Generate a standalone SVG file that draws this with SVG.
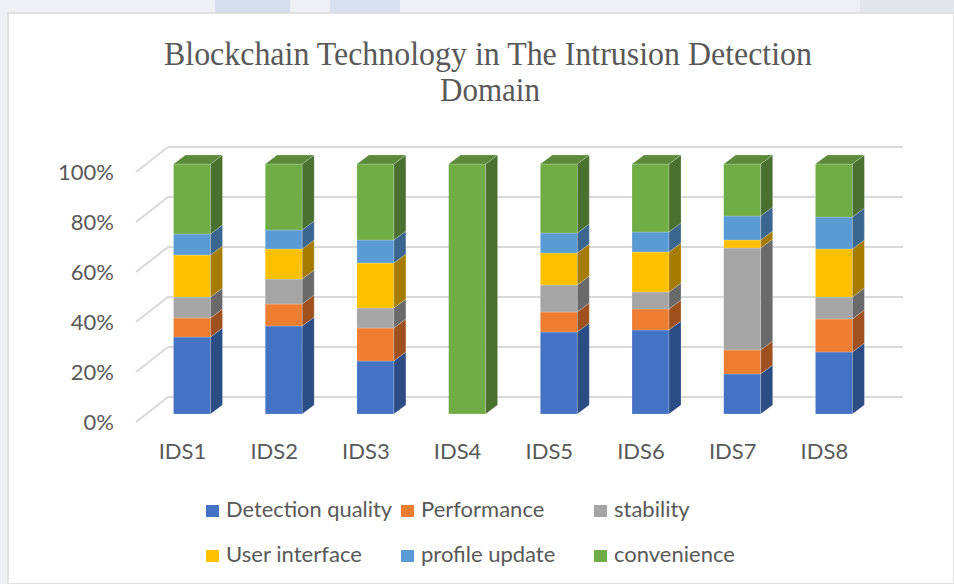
<svg xmlns="http://www.w3.org/2000/svg" width="954" height="584" viewBox="0 0 954 584">
<style>
.t{font-family:Lato,"Liberation Sans",sans-serif;font-size:22px;fill:#595959}
.ttl{font-family:"Liberation Serif","Times New Roman",serif;font-size:33px;fill:#595959}
.g{stroke:#D9D9D9;stroke-width:2;fill:none}
.bf{fill:#4472C4}.bs{fill:#2C4C84}
.of{fill:#ED7D31}.os{fill:#9E511F}
.af{fill:#A5A5A5}.as{fill:#6A6A6A}
.yf{fill:#FFC000}.ys{fill:#A67C00}
.lf{fill:#5B9BD5}.ls{fill:#3A6690}
.cf{fill:#70AD47}.cs{fill:#4A712F}.ct{fill:#5A8A3A}
.bar rect,.bar polygon{stroke:#ffffff;stroke-opacity:0.35;stroke-width:0.6}
</style>
<!-- backdrop outside chart area -->
<rect x="0" y="0" width="954" height="584" fill="#EEF0F3"/>
<rect x="215" y="0" width="75" height="13" fill="#D5DEEE"/>
<rect x="330" y="0" width="70" height="13" fill="#D9E1F0"/>
<rect x="860" y="0" width="94" height="13" fill="#E2E5EA"/>
<rect x="8" y="13" width="946" height="571" fill="#FFFFFF" stroke="#D9D9D9" stroke-width="1.5"/>
<text class="ttl" x="488" y="65" text-anchor="middle" textLength="648" lengthAdjust="spacingAndGlyphs">Blockchain Technology in The Intrusion Detection</text>
<text class="ttl" x="490" y="101" text-anchor="middle" textLength="100" lengthAdjust="spacingAndGlyphs">Domain</text>
<g id="gridlines">
<path class="g" d="M136,172 L168,147 L903,147 M136,222 L168,197 L903,197 M136,272 L168,247 L903,247 M136,322 L168,297 L903,297 M136,372 L168,347 L903,347 M136,422 L168,397 L903,397"/>
</g>
<g id="y-axis">
<text class="t" x="114" y="180" text-anchor="end">100%</text>
<text class="t" x="114" y="230" text-anchor="end">80%</text>
<text class="t" x="114" y="280" text-anchor="end">60%</text>
<text class="t" x="114" y="330" text-anchor="end">40%</text>
<text class="t" x="114" y="380" text-anchor="end">20%</text>
<text class="t" x="114" y="430" text-anchor="end">0%</text>
</g>
<g id="bar-IDS1" class="bar" transform="translate(173.5,0)">
<rect class="bf" x="0" y="337" width="37" height="77"/><polygon class="bs" points="37,414 37,337 49,328 49,405"/>
<rect class="of" x="0" y="318" width="37" height="19"/><polygon class="os" points="37,337 37,318 49,309 49,328"/>
<rect class="af" x="0" y="297" width="37" height="21"/><polygon class="as" points="37,318 37,297 49,288 49,309"/>
<rect class="yf" x="0" y="255" width="37" height="42"/><polygon class="ys" points="37,297 37,255 49,246 49,288"/>
<rect class="lf" x="0" y="234" width="37" height="21"/><polygon class="ls" points="37,255 37,234 49,225 49,246"/>
<rect class="cf" x="0" y="164" width="37" height="70"/><polygon class="cs" points="37,234 37,164 49,155 49,225"/>
<polygon class="ct" points="0,164 37,164 49,155 12,155"/>
</g>
<g id="bar-IDS2" class="bar" transform="translate(265.2,0)">
<rect class="bf" x="0" y="326" width="37" height="88"/><polygon class="bs" points="37,414 37,326 49,317 49,405"/>
<rect class="of" x="0" y="304" width="37" height="22"/><polygon class="os" points="37,326 37,304 49,295 49,317"/>
<rect class="af" x="0" y="279" width="37" height="25"/><polygon class="as" points="37,304 37,279 49,270 49,295"/>
<rect class="yf" x="0" y="249" width="37" height="30"/><polygon class="ys" points="37,279 37,249 49,240 49,270"/>
<rect class="lf" x="0" y="230" width="37" height="19"/><polygon class="ls" points="37,249 37,230 49,221 49,240"/>
<rect class="cf" x="0" y="164" width="37" height="66"/><polygon class="cs" points="37,230 37,164 49,155 49,221"/>
<polygon class="ct" points="0,164 37,164 49,155 12,155"/>
</g>
<g id="bar-IDS3" class="bar" transform="translate(356.9,0)">
<rect class="bf" x="0" y="361" width="37" height="53"/><polygon class="bs" points="37,414 37,361 49,352 49,405"/>
<rect class="of" x="0" y="328" width="37" height="33"/><polygon class="os" points="37,361 37,328 49,319 49,352"/>
<rect class="af" x="0" y="308" width="37" height="20"/><polygon class="as" points="37,328 37,308 49,299 49,319"/>
<rect class="yf" x="0" y="263" width="37" height="45"/><polygon class="ys" points="37,308 37,263 49,254 49,299"/>
<rect class="lf" x="0" y="240" width="37" height="23"/><polygon class="ls" points="37,263 37,240 49,231 49,254"/>
<rect class="cf" x="0" y="164" width="37" height="76"/><polygon class="cs" points="37,240 37,164 49,155 49,231"/>
<polygon class="ct" points="0,164 37,164 49,155 12,155"/>
</g>
<g id="bar-IDS4" class="bar" transform="translate(448.6,0)">
<rect class="cf" x="0" y="164" width="37" height="250"/><polygon class="cs" points="37,414 37,164 49,155 49,405"/>
<polygon class="ct" points="0,164 37,164 49,155 12,155"/>
</g>
<g id="bar-IDS5" class="bar" transform="translate(540.3,0)">
<rect class="bf" x="0" y="332" width="37" height="82"/><polygon class="bs" points="37,414 37,332 49,323 49,405"/>
<rect class="of" x="0" y="312" width="37" height="20"/><polygon class="os" points="37,332 37,312 49,303 49,323"/>
<rect class="af" x="0" y="285" width="37" height="27"/><polygon class="as" points="37,312 37,285 49,276 49,303"/>
<rect class="yf" x="0" y="253" width="37" height="32"/><polygon class="ys" points="37,285 37,253 49,244 49,276"/>
<rect class="lf" x="0" y="233" width="37" height="20"/><polygon class="ls" points="37,253 37,233 49,224 49,244"/>
<rect class="cf" x="0" y="164" width="37" height="69"/><polygon class="cs" points="37,233 37,164 49,155 49,224"/>
<polygon class="ct" points="0,164 37,164 49,155 12,155"/>
</g>
<g id="bar-IDS6" class="bar" transform="translate(632,0)">
<rect class="bf" x="0" y="330" width="37" height="84"/><polygon class="bs" points="37,414 37,330 49,321 49,405"/>
<rect class="of" x="0" y="309" width="37" height="21"/><polygon class="os" points="37,330 37,309 49,300 49,321"/>
<rect class="af" x="0" y="292" width="37" height="17"/><polygon class="as" points="37,309 37,292 49,283 49,300"/>
<rect class="yf" x="0" y="252" width="37" height="40"/><polygon class="ys" points="37,292 37,252 49,243 49,283"/>
<rect class="lf" x="0" y="232" width="37" height="20"/><polygon class="ls" points="37,252 37,232 49,223 49,243"/>
<rect class="cf" x="0" y="164" width="37" height="68"/><polygon class="cs" points="37,232 37,164 49,155 49,223"/>
<polygon class="ct" points="0,164 37,164 49,155 12,155"/>
</g>
<g id="bar-IDS7" class="bar" transform="translate(723.7,0)">
<rect class="bf" x="0" y="374" width="37" height="40"/><polygon class="bs" points="37,414 37,374 49,365 49,405"/>
<rect class="of" x="0" y="350" width="37" height="24"/><polygon class="os" points="37,374 37,350 49,341 49,365"/>
<rect class="af" x="0" y="248" width="37" height="102"/><polygon class="as" points="37,350 37,248 49,239 49,341"/>
<rect class="yf" x="0" y="240" width="37" height="8"/><polygon class="ys" points="37,248 37,240 49,231 49,239"/>
<rect class="lf" x="0" y="216" width="37" height="24"/><polygon class="ls" points="37,240 37,216 49,207 49,231"/>
<rect class="cf" x="0" y="164" width="37" height="52"/><polygon class="cs" points="37,216 37,164 49,155 49,207"/>
<polygon class="ct" points="0,164 37,164 49,155 12,155"/>
</g>
<g id="bar-IDS8" class="bar" transform="translate(815.4,0)">
<rect class="bf" x="0" y="352" width="37" height="62"/><polygon class="bs" points="37,414 37,352 49,343 49,405"/>
<rect class="of" x="0" y="319" width="37" height="33"/><polygon class="os" points="37,352 37,319 49,310 49,343"/>
<rect class="af" x="0" y="297" width="37" height="22"/><polygon class="as" points="37,319 37,297 49,288 49,310"/>
<rect class="yf" x="0" y="249" width="37" height="48"/><polygon class="ys" points="37,297 37,249 49,240 49,288"/>
<rect class="lf" x="0" y="217" width="37" height="32"/><polygon class="ls" points="37,249 37,217 49,208 49,240"/>
<rect class="cf" x="0" y="164" width="37" height="53"/><polygon class="cs" points="37,217 37,164 49,155 49,208"/>
<polygon class="ct" points="0,164 37,164 49,155 12,155"/>
</g>
<g id="x-axis">
<text class="t" x="182.5" y="459" text-anchor="middle">IDS1</text>
<text class="t" x="274.2" y="459" text-anchor="middle">IDS2</text>
<text class="t" x="365.9" y="459" text-anchor="middle">IDS3</text>
<text class="t" x="457.6" y="459" text-anchor="middle">IDS4</text>
<text class="t" x="549.3" y="459" text-anchor="middle">IDS5</text>
<text class="t" x="641" y="459" text-anchor="middle">IDS6</text>
<text class="t" x="732.7" y="459" text-anchor="middle">IDS7</text>
<text class="t" x="824.4" y="459" text-anchor="middle">IDS8</text>
</g>
<g id="legend">
<g id="leg-detection"><rect class="bf" x="206" y="505" width="13" height="12"/><text class="t" x="226" y="517" textLength="166" lengthAdjust="spacingAndGlyphs">Detection quality</text></g>
<g id="leg-performance"><rect class="of" x="401" y="505" width="13" height="12"/><text class="t" x="421" y="517">Performance</text></g>
<g id="leg-stability"><rect class="af" x="594" y="505" width="13" height="12"/><text class="t" x="614" y="517">stability</text></g>
<g id="leg-ui"><rect class="yf" x="206" y="550" width="13" height="12"/><text class="t" x="226" y="562" textLength="136" lengthAdjust="spacingAndGlyphs">User interface</text></g>
<g id="leg-profile"><rect class="lf" x="401" y="550" width="13" height="12"/><text class="t" x="421" y="562">profile update</text></g>
<g id="leg-convenience"><rect class="cf" x="594" y="550" width="13" height="12"/><text class="t" x="614" y="562">convenience</text></g>
</g>
</svg>
